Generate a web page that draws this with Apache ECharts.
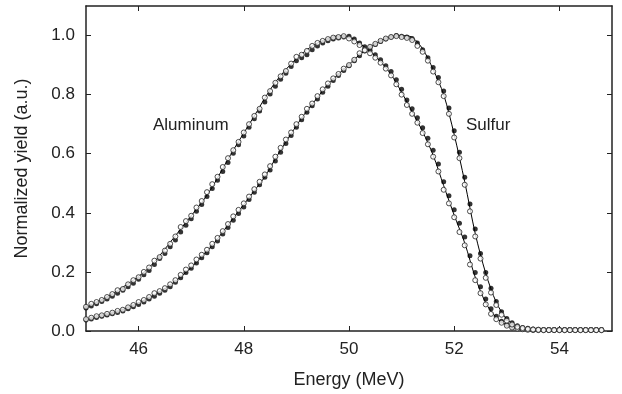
<!DOCTYPE html>
<html><head><meta charset="utf-8">
<script src="https://cdn.jsdelivr.net/npm/echarts@6/dist/echarts.min.js"></script>
<style>html,body{margin:0;padding:0;background:#fff}#c{width:622px;height:394px}</style>
</head><body><div id="c"></div>
<script>
// Energy grid of the measured points: 45.0 .. 54.8 MeV, step 0.1
const POINT_START = 45.0, POINT_STEP = 0.1;
// Energy grid of the fitted curves: 45.0 .. 54.8 MeV, step 0.2
const FIT_START = 45.0, FIT_STEP = 0.2;

const X_TICKS = [46, 48, 50, 52, 54];
const Y_TICKS = [0, 0.2, 0.4, 0.6, 0.8, 1.0];

const AL_OPEN = [
 0.082,0.092,0.098,0.105,0.115,0.125,0.138,0.142,0.158,0.172,
 0.182,0.200,0.215,0.238,0.250,0.272,0.295,0.320,0.352,0.372,
 0.390,0.418,0.440,0.470,0.497,0.522,0.555,0.585,0.612,0.640,
 0.672,0.700,0.728,0.752,0.790,0.812,0.840,0.862,0.880,0.905,
 0.928,0.935,0.948,0.965,0.975,0.982,0.988,0.993,0.995,0.998,
 0.990,0.980,0.968,0.952,0.940,0.925,0.908,0.888,0.865,0.835,
 0.800,0.765,0.735,0.705,0.670,0.632,0.590,0.540,0.478,0.432,
 0.385,0.335,0.290,0.225,0.172,0.128,0.090,0.058,0.040,0.028,
 0.018,0.012,0.008,0.006,0.004,0.003,0.003,0.003,0.003,0.003,
 0.003,0.003,0.003,0.003,0.003,0.003,0.003,0.003,0.003];
const AL_FILLED = [
 0.078,0.085,0.092,0.100,0.108,0.118,0.128,0.138,0.150,0.162,
 0.175,0.190,0.205,0.225,0.245,0.262,0.285,0.308,0.335,0.358,
 0.380,0.405,0.428,0.455,0.482,0.510,0.540,0.570,0.602,0.630,
 0.660,0.690,0.718,0.745,0.775,0.802,0.828,0.852,0.872,0.895,
 0.915,0.925,0.935,0.952,0.965,0.975,0.982,0.988,0.992,0.995,
 0.998,0.988,0.975,0.962,0.950,0.935,0.918,0.898,0.878,0.850,
 0.818,0.782,0.752,0.722,0.688,0.652,0.612,0.565,0.505,0.458,
 0.410,0.365,0.318,0.255,0.198,0.150,0.108,0.075,0.050,0.033,
 0.022,0.015,0.010,0.007,0.005,0.004,0.004,0.004,0.004,0.004,
 0.004,0.004,0.004,0.004,0.004,0.004,0.004,0.004,0.004];
const S_OPEN = [
 0.040,0.045,0.050,0.053,0.058,0.062,0.068,0.072,0.080,0.088,
 0.098,0.105,0.115,0.128,0.135,0.145,0.158,0.172,0.190,0.208,
 0.222,0.242,0.258,0.275,0.295,0.315,0.338,0.362,0.388,0.410,
 0.432,0.455,0.480,0.505,0.530,0.558,0.590,0.620,0.648,0.672,
 0.700,0.725,0.752,0.770,0.795,0.818,0.838,0.855,0.870,0.888,
 0.900,0.918,0.940,0.950,0.962,0.972,0.982,0.990,0.995,0.998,
 0.995,0.992,0.985,0.965,0.945,0.915,0.878,0.842,0.795,0.735,
 0.655,0.585,0.495,0.405,0.320,0.245,0.180,0.130,0.088,0.055,
 0.035,0.022,0.014,0.010,0.007,0.005,0.004,0.003,0.003,0.003,
 0.003,0.003,0.003,0.003,0.003,0.003,0.003,0.003,0.003];
const S_FILLED = [
 0.037,0.041,0.046,0.050,0.054,0.058,0.063,0.068,0.075,0.082,
 0.090,0.098,0.108,0.118,0.128,0.138,0.150,0.165,0.180,0.198,
 0.212,0.230,0.248,0.265,0.285,0.305,0.328,0.350,0.375,0.398,
 0.420,0.445,0.470,0.495,0.520,0.545,0.575,0.605,0.635,0.662,
 0.690,0.715,0.740,0.762,0.785,0.808,0.828,0.848,0.865,0.882,
 0.898,0.915,0.932,0.948,0.960,0.970,0.980,0.988,0.995,1.000,
 0.998,0.995,0.990,0.975,0.952,0.925,0.892,0.858,0.812,0.755,
 0.678,0.605,0.520,0.430,0.345,0.262,0.198,0.145,0.100,0.065,
 0.042,0.028,0.018,0.012,0.009,0.007,0.006,0.005,0.005,0.005,
 0.005,0.005,0.005,0.005,0.005,0.005,0.005,0.005,0.005];
const AL_FIT = [
 0.080,0.097,0.116,0.137,0.160,0.185,0.215,0.255,0.300,0.345,
 0.390,0.435,0.487,0.550,0.612,0.670,0.728,0.788,0.842,0.885,
 0.922,0.952,0.975,0.990,0.999,0.995,0.974,0.946,0.912,0.868,
 0.808,0.742,0.675,0.595,0.492,0.392,0.298,0.182,0.095,0.045,
 0.020,0.009,0.005,0.003,0.002,0.002,0.002,0.002,0.002,0.002];
const S_FIT = [
 0.038,0.046,0.055,0.066,0.080,0.095,0.113,0.133,0.155,0.183,
 0.215,0.252,0.290,0.335,0.382,0.428,0.475,0.522,0.583,0.640,
 0.695,0.745,0.790,0.835,0.870,0.902,0.935,0.960,0.982,0.996,
 1.000,0.994,0.955,0.885,0.800,0.665,0.505,0.330,0.195,0.097,
 0.040,0.016,0.007,0.004,0.003,0.002,0.002,0.002,0.002,0.002];

const pts = (arr, start, step) => arr.map((v, i) => [+(start + i * step).toFixed(2), v]);

const FONT = 'Liberation Sans, Arial, sans-serif';
const FS = 17;      // tick labels and annotations
const FS_NAME = 18; // axis titles
const AX = '#222';
const chart = echarts.init(document.getElementById('c'), null, {renderer: 'canvas'});

function xAx(pos, show) {
  return {
    type: 'value', min: 45, max: 55, position: pos,
    name: show ? 'Energy (MeV)' : '', nameLocation: 'middle', nameGap: 40,
    nameTextStyle: {fontFamily: FONT, fontSize: FS_NAME, color: AX},
    axisLine: {show: true, onZero: false, lineStyle: {color: AX, width: 1.5}},
    axisTick: {show: true, inside: true, length: 5, customValues: X_TICKS, lineStyle: {color: AX}},
    axisLabel: {show: show, customValues: X_TICKS, margin: 10, fontFamily: FONT, fontSize: FS, color: AX},
    splitLine: {show: false}
  };
}
function yAx(pos, show) {
  return {
    type: 'value', min: 0, max: 1.1, position: pos,
    name: show ? 'Normalized yield (a.u.)' : '', nameLocation: 'middle', nameGap: 55,
    nameTextStyle: {fontFamily: FONT, fontSize: FS_NAME, color: AX},
    axisLine: {show: true, onZero: false, lineStyle: {color: AX, width: 1.5}},
    axisTick: {show: true, inside: true, length: 5, customValues: Y_TICKS, lineStyle: {color: AX}},
    axisLabel: {show: show, customValues: Y_TICKS, margin: 11, fontFamily: FONT, fontSize: FS, color: AX,
      formatter: v => v.toFixed(1)},
    splitLine: {show: false}
  };
}

const filled = (name, data) => ({
  name, type: 'scatter', data, symbol: 'circle', symbolSize: 5, z: 3,
  itemStyle: {color: '#000'}, silent: true
});
const open = (name, data) => ({
  name, type: 'scatter', data, symbol: 'circle', symbolSize: 5, z: 4,
  itemStyle: {color: '#fff', borderColor: '#222', borderWidth: 1}, silent: true
});
const fit = (name, data) => ({
  name, type: 'line', data, smooth: 0.3, showSymbol: false, z: 2,
  lineStyle: {color: '#000', width: 1}, silent: true
});

chart.setOption({
  animation: false,
  backgroundColor: '#fff',
  grid: {left: 86, right: 10, top: 6, bottom: 61, containLabel: false},
  xAxis: [xAx('bottom', true), xAx('top', false)],
  yAxis: [yAx('left', true), yAx('right', false)],
  series: [
    fit('Aluminum fit', pts(AL_FIT, FIT_START, FIT_STEP)),
    fit('Sulfur fit', pts(S_FIT, FIT_START, FIT_STEP)),
    filled('Aluminum filled', pts(AL_FILLED, POINT_START, POINT_STEP)),
    filled('Sulfur filled', pts(S_FILLED, POINT_START, POINT_STEP)),
    open('Aluminum open', pts(AL_OPEN, POINT_START, POINT_STEP)),
    open('Sulfur open', pts(S_OPEN, POINT_START, POINT_STEP))
  ],
  graphic: [
    {type: 'text', left: 153, top: 117, style: {text: 'Aluminum', font: FS + 'px ' + FONT, fill: AX}},
    {type: 'text', left: 466, top: 117, style: {text: 'Sulfur', font: FS + 'px ' + FONT, fill: AX}}
  ]
});
</script>
</body></html>
